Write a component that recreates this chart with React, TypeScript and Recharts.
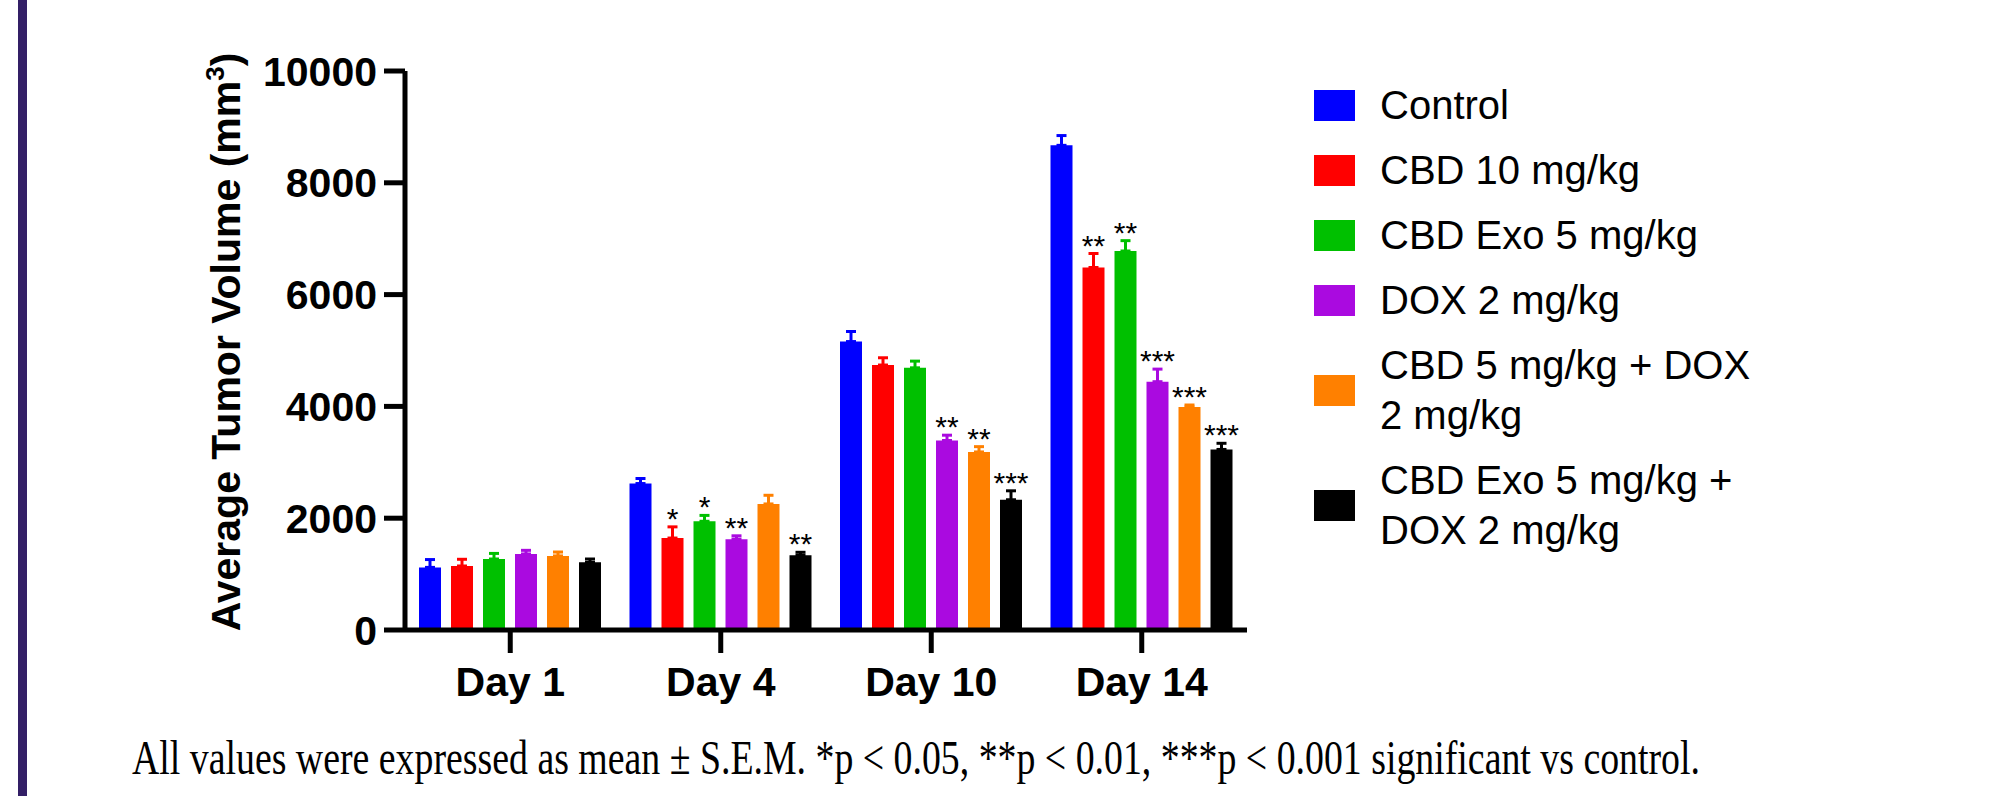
import { BarChart, Bar, XAxis, YAxis, ErrorBar, LabelList, Legend } from "recharts";

const FONT = "'Liberation Sans', Arial, Helvetica, sans-serif";

const DAYS = ["Day 1", "Day 4", "Day 10", "Day 14"];
const Y_TICKS = [0, 2000, 4000, 6000, 8000, 10000];

// mean tumour volume (mm3) per day, with SEM and significance marks
const CONTROL = [1120, 2620, 5160, 8670];
const CONTROL_SEM = [140, 90, 180, 175];
const CONTROL_SIG = ["", "", "", ""];

const CBD10 = [1145, 1645, 4740, 6485];
const CBD10_SEM = [120, 200, 130, 250];
const CBD10_SIG = ["", "*", "", "**"];

const CBD_EXO = [1270, 1945, 4690, 6780];
const CBD_EXO_SEM = [100, 105, 120, 185];
const CBD_EXO_SIG = ["", "*", "", "**"];

const DOX = [1360, 1625, 3390, 4442];
const DOX_SEM = [65, 60, 95, 225];
const DOX_SIG = ["", "**", "**", "***"];

const CBD_DOX = [1325, 2255, 3185, 3990];
const CBD_DOX_SEM = [70, 155, 95, 35];
const CBD_DOX_SIG = ["", "", "**", "***"];

const EXO_DOX = [1210, 1335, 2330, 3230];
const EXO_DOX_SEM = [60, 55, 160, 110];
const EXO_DOX_SIG = ["", "**", "***", "***"];

const SERIES = [
  { key: "control", name: "Control", color: "#0000ff", values: CONTROL, sem: CONTROL_SEM, sig: CONTROL_SIG },
  { key: "cbd10", name: "CBD 10 mg/kg", color: "#ff0000", values: CBD10, sem: CBD10_SEM, sig: CBD10_SIG },
  { key: "cbdExo", name: "CBD Exo 5 mg/kg", color: "#00c000", values: CBD_EXO, sem: CBD_EXO_SEM, sig: CBD_EXO_SIG },
  { key: "dox", name: "DOX 2 mg/kg", color: "#aa0ae0", values: DOX, sem: DOX_SEM, sig: DOX_SIG },
  { key: "cbdDox", name: "CBD 5 mg/kg + DOX\n2 mg/kg", color: "#ff8000", values: CBD_DOX, sem: CBD_DOX_SEM, sig: CBD_DOX_SIG },
  { key: "exoDox", name: "CBD Exo 5 mg/kg +\nDOX 2 mg/kg", color: "#000000", values: EXO_DOX, sem: EXO_DOX_SEM, sig: EXO_DOX_SIG },
];

const FOOTNOTE =
  "All values were expressed as mean \u00b1 S.E.M. *p < 0.05, **p < 0.01, ***p < 0.001 significant vs control.";

const data = DAYS.map((day, i) => {
  const row: Record<string, any> = { day };
  SERIES.forEach((s) => {
    row[s.key] = s.values[i];
    row[s.key + "Err"] = [0, s.sem[i]];
  });
  return row;
});

type Series = (typeof SERIES)[number];

function sigLabel(s: Series) {
  return (props: any) => {
    const idx = props.index;
    const mark = s.sig[idx];
    if (!mark) return null;
    const x = Number(props.x);
    const y = Number(props.y);
    const w = Number(props.width);
    const h = Number(props.height);
    const perUnit = h / s.values[idx];
    const top = y - s.sem[idx] * perUnit;
    return (
      <text x={x + w / 2} y={top + 2} textAnchor="middle" fontSize={30} fontFamily={FONT} fill="#000">
        {mark}
      </text>
    );
  };
}

function YTitle() {
  return (
    <text
      transform="translate(240,342) rotate(-90)"
      textAnchor="middle"
      fontSize={41}
      fontWeight="bold"
      fontFamily={FONT}
      fill="#000"
    >
      Average Tumor Volume (mm
      <tspan dy={-16} fontSize={26}>3</tspan>
      <tspan dy={16}>)</tspan>
    </text>
  );
}

function LegendBox() {
  return (
    <div style={{ fontFamily: FONT, fontSize: 40, lineHeight: "50px", color: "#000" }}>
      {SERIES.map((s) => (
        <div key={s.key} style={{ display: "flex", alignItems: "center", marginBottom: 15 }}>
          <span style={{ width: 41, height: 31, background: s.color, flexShrink: 0, marginRight: 25 }} />
          <span style={{ whiteSpace: "pre-line" }}>{s.name}</span>
        </div>
      ))}
    </div>
  );
}

export default function App() {
  return (
    <div style={{ position: "absolute", left: 0, top: 0, width: 2011, height: 796, background: "#fff" }}>
      <div style={{ position: "absolute", left: 18, top: 0, width: 9, height: 796, background: "#331f66" }} />
      <BarChart
        width={2011}
        height={796}
        data={data}
        margin={{ top: 71, right: 764, bottom: 86, left: 305 }}
        barGap={10}
      >
        <XAxis
          dataKey="day"
          height={80}
          axisLine={{ stroke: "#000", strokeWidth: 5 }}
          tickLine={{ stroke: "#000", strokeWidth: 5 }}
          tickSize={23}
          tickMargin={14}
          tick={{ fontSize: 41, fontWeight: "bold", fill: "#000", fontFamily: FONT }}
        />
        <YAxis
          width={100}
          domain={[0, 10000]}
          ticks={Y_TICKS}
          interval={0}
          axisLine={{ stroke: "#000", strokeWidth: 5 }}
          tickLine={{ stroke: "#000", strokeWidth: 5 }}
          tickSize={21}
          tickMargin={7}
          tick={{ fontSize: 41, fontWeight: "bold", fill: "#000", fontFamily: FONT }}
          label={{ content: () => <YTitle /> }}
        />
        <Legend
          layout="vertical"
          align="center"
          verticalAlign="middle"
          content={() => <LegendBox />}
          wrapperStyle={{ left: 1314, top: 80, width: 650 }}
        />
        {SERIES.map((s) => (
          <Bar key={s.key} dataKey={s.key} name={s.name} fill={s.color} barSize={22} isAnimationActive={false}>
            <ErrorBar dataKey={s.key + "Err"} width={5} strokeWidth={3} stroke={s.color} direction="y" />
            <LabelList content={sigLabel(s)} />
          </Bar>
        ))}
      </BarChart>
      <svg
        width={2011}
        height={796}
        style={{ position: "absolute", left: 0, top: 0, pointerEvents: "none" }}
      >
        {/* caption is a narrow, tall serif in the source: taller glyphs via a vertical stretch */}
        <g transform="translate(132,774) scale(1,1.29)">
          <text
            x={0}
            y={0}
            fontSize={38}
            fontFamily="'Liberation Serif', 'Times New Roman', serif"
            fill="#000"
            textLength={1568}
            lengthAdjust="spacingAndGlyphs"
          >
            {FOOTNOTE}
          </text>
        </g>
      </svg>
    </div>
  );
}
